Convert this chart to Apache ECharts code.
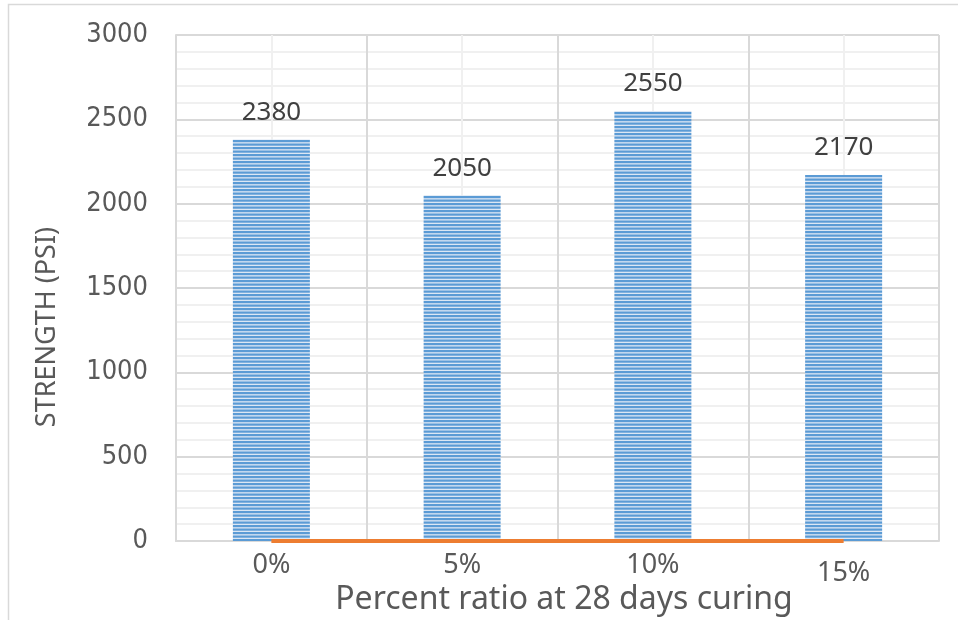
<!DOCTYPE html>
<html>
<head>
<meta charset="utf-8">
<script src="https://cdn.jsdelivr.net/npm/echarts@6/dist/echarts.min.js"></script>
<style>
  html, body { margin: 0; padding: 0; background: #ffffff; }
  #chart { width: 958px; height: 620px; }
</style>
</head>
<body>
<div id="chart"></div>
<script>
// Mix ratios tested and the 28-day strength results
const categories = ['0%', '5%', '10%', '15%'];
const strength = [2380, 2050, 2550, 2170];
const baseline = [0, 0, 0, 0];
const yTicks = [0, 500, 1000, 1500, 2000, 2500, 3000];

const FONT = '"Noto Sans", "Open Sans", sans-serif';
const TICK_FONT = '"DejaVu Sans Condensed", "Noto Sans", sans-serif';

// Horizontal stripe fill for the bars
function stripeCanvas() {
  const c = document.createElement('canvas');
  c.width = 4; c.height = 7;
  const g = c.getContext('2d');
  g.fillStyle = '#DCE7F4';
  g.fillRect(0, 0, 4, 7);
  g.fillStyle = '#5B9BD5';
  g.fillRect(0, 0, 4, 2.2);
  g.fillRect(0, 3.5, 4, 2.2);
  return c;
}

const chart = echarts.init(document.getElementById('chart'), null, { renderer: 'canvas' });

const option = {
  backgroundColor: '#ffffff',
  animation: false,
  grid: { left: 176, right: 19, top: 35, bottom: 79, containLabel: false },
  xAxis: [
    {
      type: 'category',
      data: categories.map((c, i) => i === 3
        ? { value: c, textStyle: { padding: [8, 0, 0, 0] } }
        : c),
      boundaryGap: true,
      axisLine: { show: true, lineStyle: { color: '#D9D9D9', width: 2 } },
      axisTick: { show: false },
      splitLine: { show: false },
      axisLabel: { color: '#595959', fontSize: 27, fontFamily: FONT, margin: 11 }
    },
    {
      // helper axis for the vertical gridlines (boundaries and centres)
      type: 'value',
      min: 0, max: 4, interval: 1,
      show: true,
      position: 'top',
      axisLine: { show: false },
      axisTick: { show: false },
      axisLabel: { show: false },
      splitLine: { show: true, lineStyle: { color: '#D9D9D9', width: 2 } },
      minorTick: { show: false, splitNumber: 2 },
      minorSplitLine: { show: true, lineStyle: { color: '#F0F0F0', width: 2 } }
    }
  ],
  yAxis: {
    type: 'value',
    min: yTicks[0],
    max: yTicks[yTicks.length - 1],
    interval: 500,
    axisLine: { show: true, lineStyle: { color: '#D9D9D9', width: 2 } },
    axisTick: { show: false },
    axisLabel: {
      color: '#595959', fontSize: 27, fontFamily: TICK_FONT, margin: 28,
      formatter: v => String(v)
    },
    splitLine: { show: true, lineStyle: { color: '#D9D9D9', width: 2 } },
    minorTick: { show: false, splitNumber: 5 },
    minorSplitLine: { show: true, lineStyle: { color: '#F0F0F0', width: 2 } }
  },
  series: [
    {
      type: 'bar',
      data: strength,
      barWidth: 77,
      itemStyle: { color: { image: stripeCanvas(), repeat: 'repeat' } },
      label: {
        show: true,
        position: 'top',
        distance: 14,
        color: '#404040',
        fontSize: 26,
        fontFamily: FONT
      },
      z: 2
    },
    {
      type: 'line',
      data: baseline,
      symbol: 'none',
      lineStyle: { color: '#ED7D31', width: 4 },
      z: 3
    }
  ],
  graphic: [
    {
      type: 'rect',
      shape: { x: 8.5, y: 4.5, width: 1000, height: 700 },
      style: { fill: 'none', stroke: '#D9D9D9', lineWidth: 1.5 },
      silent: true
    },
    {
      type: 'text',
      x: 564, y: 600,
      style: {
        text: 'Percent ratio at 28 days curing',
        fill: '#595959',
        font: '32px ' + FONT,
        align: 'center',
        verticalAlign: 'middle'
      }
    },
    {
      type: 'text',
      x: 47, y: 327,
      rotation: Math.PI / 2,
      style: {
        text: 'STRENGTH (PSI)',
        fill: '#595959',
        font: '27px ' + FONT,
        align: 'center',
        verticalAlign: 'middle'
      }
    }
  ]
};

chart.setOption(option);
</script>
</body>
</html>
